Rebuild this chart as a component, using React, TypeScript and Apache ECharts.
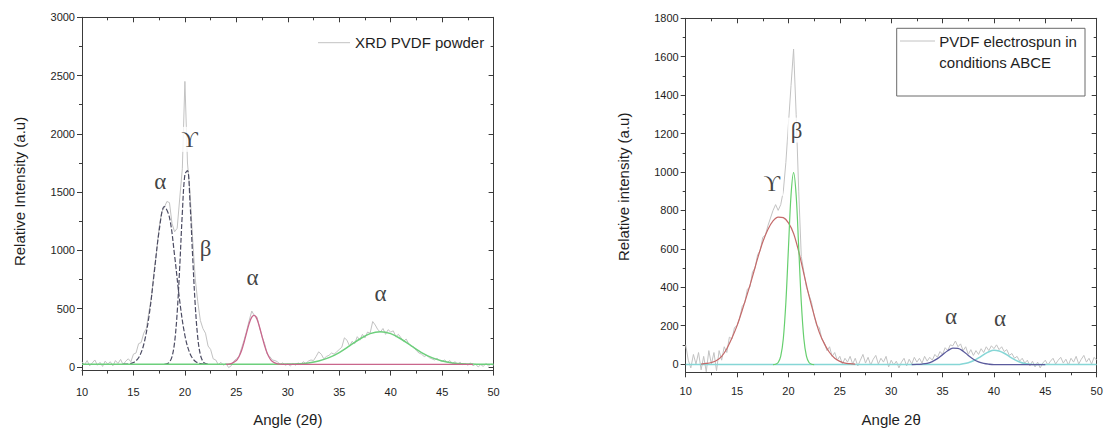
import React, { useEffect, useRef } from "react";
import * as echarts from "echarts";

// ---------- DATA ----------
const RAW_START = 10;
const RAW_STEP = 0.25;

// Left panel: XRD PVDF powder (raw counts, 10..50 deg, step 0.25)
const powderRaw = [
  45, 20, 55, 10, 35, 60, 15, 40,
  5, 50, 25, 45, 10, 55, 30, 65,
  20, 50, 70, 45, 110, 120, 200, 210,
  290, 330, 470, 600, 820, 990, 1200, 1330,
  1370, 1420, 1410, 1230, 1160, 1190, 1450, 1700,
  2450, 1750, 1500, 1100, 760, 560, 400, 330,
  290, 180, 150, 70, 60, 20, 40, 15,
  30, -5, 10, 50, 70, 90, 160, 230,
  310, 400, 480, 440, 430, 340, 260, 200,
  110, 90, 60, 55, 45, 20, 35, 15,
  25, 10, 30, 15, 35, 20, 45, 30,
  50, 60, 55, 90, 130, 110, 70, 90,
  100, 120, 110, 130, 150, 170, 250, 230,
  180, 220, 200, 260, 230, 280, 250, 300,
  290, 390, 360, 320, 300, 330, 280, 320,
  300, 310, 260, 280, 250, 220, 240, 200,
  180, 170, 140, 120, 110, 90, 100, 80,
  70, 60, 75, 55, 50, 60, 40, 55,
  30, 45, 25, 40, 20, 30, 15, 35,
  10, 25, 0, 20, 5, 30, 10, 25,
  15,
];

// Left panel fitted peaks [angle, intensity]
const powderAlphaFit1 = [
  [14, 24], [14.5, 26], [15, 38], [15.5, 79], [16, 193], [16.5, 429], [17, 792],
  [17.5, 1171], [18, 1377], [18.5, 1284], [19, 955], [19.5, 563], [20, 271],
  [20.5, 113], [21, 49], [21.5, 29], [22, 24],
];
const powderGammaFit = [
  [18, 23], [18.25, 27], [18.5, 42], [18.75, 89], [19, 212], [19.25, 466],
  [19.5, 863], [19.75, 1321], [20, 1651], [20.25, 1685], [20.5, 1406],
  [20.75, 955], [21, 536], [21.25, 252], [21.5, 106], [21.75, 48], [22, 29], [22.25, 23],
];
const powderAlphaFit2 = [
  [24, 23], [24.5, 29], [25, 55], [25.25, 88], [25.5, 140], [25.75, 212], [26, 295],
  [26.25, 374], [26.5, 428], [26.75, 443], [27, 411], [27.25, 343], [27.5, 261],
  [27.75, 181], [28, 117], [28.25, 73], [28.5, 47], [29, 27], [29.5, 23], [40, 23], [48, 23],
];
const powderAlphaFit3 = [
  [10, 23], [20, 23], [29, 24], [30, 25], [31, 28], [32, 35], [33, 51], [34, 80],
  [35, 124], [36, 181], [37, 240], [38, 286], [39, 303], [40, 286], [41, 240],
  [42, 181], [43, 124], [44, 80], [45, 51], [46, 35], [47, 28], [48, 25], [49, 23], [50, 23],
];

// Right panel: PVDF electrospun (raw counts, 10..50 deg, step 0.25)
const spunRaw = [
  100, 20, -20, 50, 0, 60, -30, 40,
  -40, 70, 0, 60, -35, 70, 20, 90,
  60, 140, 130, 190, 200, 240, 300, 320,
  390, 400, 480, 500, 570, 590, 660, 670,
  720, 760, 800, 830, 800, 830, 900, 1050,
  1250, 1450, 1640, 1300, 900, 560, 480, 400,
  360, 320, 250, 200, 190, 130, 110, 70,
  90, 40, 60, 20, 40, 0, 30, 10,
  40, 0, 30, -10, 20, 50, 5, 35,
  -5, 25, 45, 0, 30, 10, 40, -15,
  20, -5, 15, -20, 10, 30, -10, 25,
  0, 35, 10, 30, 5, 40, 15, 35,
  20, 50, 35, 65, 50, 85, 70, 100,
  95, 120, 90, 105, 70, 90, 50, 75,
  45, 70, 50, 80, 60, 90, 70, 95,
  80, 100, 75, 90, 65, 75, 45, 55,
  30, 40, 15, 30, 5, 20, -10, 15,
  -15, 10, -20, 5, 20, -5, 15, 30,
  0, 20, 35, 5, 25, -5, 30, 10,
  40, 0, 25, 45, 10, 30, 0, 35,
  20,
];

const spunGammaFit = [
  [11.5, 0], [12, 3], [12.5, 8], [13, 18], [13.5, 40], [14, 80], [14.5, 135], [15, 200],
  [15.5, 280], [16, 365], [16.5, 455], [17, 550], [17.5, 635], [18, 700], [18.5, 745],
  [19, 765], [19.5, 762], [20, 735], [20.5, 680], [21, 585], [21.5, 470], [22, 355],
  [22.5, 255], [23, 165], [23.5, 105], [24, 60], [24.5, 30], [25, 14], [25.5, 5], [26, 2], [26.5, 0],
];
const spunBetaFit = [
  [18.5, -3], [18.75, -1], [19, 8], [19.25, 41], [19.5, 132], [19.75, 322], [20, 604],
  [20.25, 879], [20.5, 997], [20.75, 879], [21, 604], [21.25, 322], [21.5, 132],
  [21.75, 41], [22, 8], [22.25, -1], [22.5, -3],
];
const spunAlphaFit1 = [
  [32, -3], [32.5, -2], [33, 0], [33.5, 4], [34, 13], [34.5, 28], [35, 49], [35.5, 69],
  [36, 83], [36.5, 82], [37, 67], [37.5, 45], [38, 25], [38.5, 11], [39, 3], [39.5, -1],
  [40, -3], [45, -3],
];
const spunAlphaFit2 = [
  [10, -3], [30, -3], [36, -3], [36.5, -3], [37, 1], [37.5, 7], [38, 17], [38.5, 32],
  [39, 49], [39.5, 64], [40, 72], [40.5, 68], [41, 56], [41.5, 39], [42, 23], [42.5, 11],
  [43, 3], [43.5, -1], [44, -3], [47, -3], [50, -3],
];

// Phase annotations [angle, intensity]
const powderPhaseLabels = [
  { name: "α", value: [17.6, 1590] },
  { name: "ϒ", value: [20.46, 1953] },
  { name: "β", value: [22.0, 1018] },
  { name: "α", value: [26.58, 766] },
  { name: "α", value: [39.0, 632] },
];
const spunPhaseLabels = [
  { name: "ϒ", value: [18.37, 941] },
  { name: "β", value: [20.8, 1218] },
  { name: "α", value: [35.82, 250] },
  { name: "α", value: [40.6, 238] },
];

// Axis ticks
const powderYTicks = [0, 500, 1000, 1500, 2000, 2500, 3000];
const powderYMinor = [250, 750, 1250, 1750, 2250, 2750];
const spunYTicks = [0, 200, 400, 600, 800, 1000, 1200, 1400, 1600, 1800];
const spunYMinor = [100, 300, 500, 700, 900, 1100, 1300, 1500, 1700];

// ---------- STYLE ----------
const FONT = "'Liberation Sans', Arial, sans-serif";
const SERIF = "'Liberation Serif', 'DejaVu Serif', serif";
const AX = "#3a3a3a";
const TXT = "#1e1e1e";
const RAW = "#c2c2c2";
const plain = (v: number) => String(v);

function xAxes(g: number, labelMargin: number, name: string, nameGap: number) {
  const base = {
    type: "value",
    gridIndex: g,
    min: 10,
    max: 50,
    interval: 5,
    splitLine: { show: false },
    minorSplitLine: { show: false },
    axisLine: { show: true, onZero: false, lineStyle: { color: AX, width: 1 } },
  };
  return [
    {
      ...base,
      position: "bottom",
      axisTick: { show: true, inside: false, length: 5, lineStyle: { color: AX } },
      minorTick: { show: true, splitNumber: 2, length: 3, lineStyle: { color: AX } },
      axisLabel: { show: true, margin: labelMargin, fontSize: 11, color: TXT, fontFamily: FONT, formatter: plain },
      name,
      nameLocation: "middle",
      nameGap,
      nameMoveOverlap: false,
      nameTextStyle: { fontSize: 15, color: TXT, fontFamily: FONT },
    },
    {
      ...base,
      position: "top",
      axisTick: { show: true, inside: true, length: 5, lineStyle: { color: AX } },
      minorTick: { show: true, splitNumber: 2, length: 3, lineStyle: { color: AX } },
      axisLabel: { show: false },
    },
  ];
}

function yAxes(
  g: number,
  min: number,
  max: number,
  major: number[],
  minor: number[],
  name: string,
  namePadLeft: number
) {
  const base = {
    type: "value",
    gridIndex: g,
    min,
    max,
    splitLine: { show: false },
    minorSplitLine: { show: false },
  };
  return [
    {
      ...base,
      position: "left",
      offset: 0,
      axisLine: { show: true, onZero: false, lineStyle: { color: AX, width: 1 } },
      axisTick: { show: true, inside: false, length: 5, customValues: major, lineStyle: { color: AX } },
      axisLabel: {
        show: true,
        customValues: major,
        margin: 7,
        fontSize: 11,
        color: TXT,
        fontFamily: FONT,
        formatter: plain,
      },
      name,
      nameLocation: "middle",
      nameGap: 55,
      nameRotate: 90,
      nameMoveOverlap: false,
      nameTextStyle: { fontSize: 15, color: TXT, fontFamily: FONT, padding: [0, 0, 0, namePadLeft] },
    },
    {
      ...base,
      position: "left",
      offset: 0,
      axisLine: { show: false },
      axisTick: { show: true, inside: false, length: 3, customValues: minor, lineStyle: { color: AX } },
      axisLabel: { show: false },
    },
    {
      ...base,
      position: "right",
      offset: 0,
      axisLine: { show: true, onZero: false, lineStyle: { color: AX, width: 1 } },
      axisTick: { show: true, inside: true, length: 5, customValues: major, lineStyle: { color: AX } },
      axisLabel: { show: false },
    },
    {
      ...base,
      position: "right",
      offset: 0,
      axisLine: { show: false },
      axisTick: { show: true, inside: true, length: 3, customValues: minor, lineStyle: { color: AX } },
      axisLabel: { show: false },
    },
  ];
}

function rawPoints(values: number[]) {
  return values.map((v, i) => [RAW_START + i * RAW_STEP, v]);
}

function line(
  name: string,
  xi: number,
  yi: number,
  data: number[][],
  color: string,
  width: number,
  smooth: boolean,
  type: any = "solid"
) {
  return {
    type: "line",
    name,
    xAxisIndex: xi,
    yAxisIndex: yi,
    data,
    smooth: smooth ? 0.35 : false,
    showSymbol: false,
    symbol: "none",
    lineStyle: { color, width, type },
    emphasis: { disabled: true },
    z: 2,
  };
}

function phaseLabels(xi: number, yi: number, data: any[]) {
  return {
    type: "scatter",
    xAxisIndex: xi,
    yAxisIndex: yi,
    data,
    symbolSize: 1,
    itemStyle: { color: "rgba(0,0,0,0)" },
    label: {
      show: true,
      position: "inside",
      formatter: (p: any) => p.name,
      fontFamily: SERIF,
      fontSize: 23,
      color: "#111",
      backgroundColor: "#fff",
      padding: [1, 3],
    },
    emphasis: { disabled: true },
    z: 5,
  };
}

export default function App() {
  const ref = useRef<HTMLDivElement>(null);

  useEffect(() => {
    if (!ref.current) return;
    const chart = echarts.init(ref.current, undefined, { renderer: "svg" });

    const option: any = {
      animation: false,
      backgroundColor: "#fff",
      textStyle: { fontFamily: FONT },
      grid: [
        { left: 82, top: 17.3, width: 411.6, height: 353.3, outerBoundsMode: "none", containLabel: false },
        { left: 685.7, top: 18.3, width: 411, height: 354, outerBoundsMode: "none", containLabel: false },
      ],
      xAxis: [...xAxes(0, 16, "Angle (2θ)", 41), ...xAxes(1, 13, "Angle 2θ", 40)],
      yAxis: [
        ...yAxes(0, -31, 3000, powderYTicks, powderYMinor, "Relative Intensity (a.u)", 5),
        ...yAxes(1, -43, 1800, spunYTicks, spunYMinor, "Relative intensity (a.u)", 17),
      ],
      series: [
        line("XRD PVDF powder", 0, 0, rawPoints(powderRaw), RAW, 1, false),
        line("alpha 18", 0, 0, powderAlphaFit1, "#4b4b62", 1.2, true, [5, 2]),
        line("gamma 20", 0, 0, powderGammaFit, "#4b4b62", 1.2, true, [5, 2]),
        line("alpha 39", 0, 0, powderAlphaFit3, "#6dcf7c", 1.5, true),
        line("alpha 26.7", 0, 0, powderAlphaFit2, "#c9668c", 1.3, true),
        phaseLabels(0, 0, powderPhaseLabels),

        line("PVDF electrospun in conditions ABCE", 2, 4, rawPoints(spunRaw), RAW, 1, false),
        line("alpha 40", 2, 4, spunAlphaFit2, "#86d6d6", 1.5, true),
        line("gamma 19", 2, 4, spunGammaFit, "#c46a6a", 1.2, true),
        line("beta 20.5", 2, 4, spunBetaFit, "#66cf6e", 1.2, true),
        line("alpha 36", 2, 4, spunAlphaFit1, "#5a5a9c", 1.3, true),
        phaseLabels(2, 4, spunPhaseLabels),
      ],
      graphic: [
        {
          type: "line",
          shape: { x1: 318, y1: 42.7, x2: 350, y2: 42.7 },
          style: { stroke: RAW, lineWidth: 1 },
        },
        {
          type: "text",
          x: 355,
          y: 42.7,
          style: { text: "XRD PVDF powder", fontSize: 15, fontFamily: FONT, fill: TXT, verticalAlign: "middle" },
        },
        {
          type: "rect",
          shape: { x: 896.7, y: 28.3, width: 188.3, height: 67.7 },
          style: { fill: "#fff", stroke: "#6a6a6a", lineWidth: 1 },
        },
        {
          type: "line",
          shape: { x1: 900, y1: 41, x2: 935, y2: 41 },
          style: { stroke: RAW, lineWidth: 1 },
        },
        {
          type: "text",
          x: 939.3,
          y: 41,
          style: { text: "PVDF electrospun in", fontSize: 15, fontFamily: FONT, fill: TXT, verticalAlign: "middle" },
        },
        {
          type: "text",
          x: 939.3,
          y: 62.5,
          style: { text: "conditions ABCE", fontSize: 15, fontFamily: FONT, fill: TXT, verticalAlign: "middle" },
        },
      ],
    };

    chart.setOption(option);
    return () => chart.dispose();
  }, []);

  return (
    <div
      ref={ref}
      style={{ position: "fixed", left: 0, top: 0, width: 1105, height: 432, background: "#fff" }}
    />
  );
}
